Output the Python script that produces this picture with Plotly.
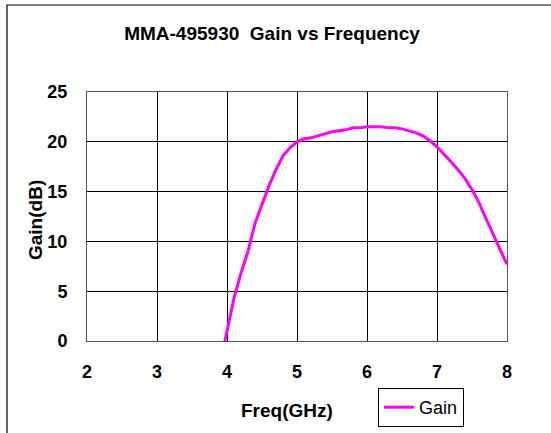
import plotly.graph_objects as go

freq = [3.97, 4.0, 4.1, 4.2, 4.3, 4.4, 4.5, 4.6, 4.7, 4.8, 4.9, 5.0, 5.1, 5.2, 5.3,
        5.4, 5.5, 5.6, 5.7, 5.8, 5.9, 6.0, 6.1, 6.2, 6.3, 6.4, 6.5, 6.6, 6.7, 6.8,
        6.9, 7.0, 7.1, 7.2, 7.3, 7.4, 7.5, 7.6, 7.7, 7.8, 7.9, 8.0]
gain = [0.0, 1.0, 4.3, 6.8, 9.0, 11.8, 13.8, 15.6, 17.2, 18.6, 19.4, 20.0, 20.3, 20.4, 20.6,
        20.8, 21.0, 21.1, 21.2, 21.4, 21.4, 21.5, 21.5, 21.5, 21.4, 21.4, 21.3, 21.1, 20.9, 20.6,
        20.1, 19.5, 18.8, 18.0, 17.2, 16.3, 15.2, 13.9, 12.3, 10.7, 9.2, 7.7]

x_ticks = [2, 3, 4, 5, 6, 7, 8]
y_ticks = [0, 5, 10, 15, 20, 25]

FONT = "Liberation Sans"
L, R, T, B = 87, 44, 92, 92
W, H = 551, 433
pw = W - L - R
ph = H - T - B

fig = go.Figure()
fig.add_trace(go.Scatter(x=freq, y=gain, mode="lines", name="Gain",
                         line=dict(color="#ff00ff", width=3), showlegend=True))

fig.update_layout(
    width=W, height=H,
    margin=dict(l=L, r=R, t=T, b=B, autoexpand=False),
    paper_bgcolor="white", plot_bgcolor="white",
    font=dict(family=FONT, color="black"),
    showlegend=True,
    legend=dict(xref="container", yref="container",
                x=378 / W, y=1 - 388 / H, xanchor="left", yanchor="top",
                bordercolor="black", borderwidth=1, bgcolor="white",
                font=dict(family=FONT, size=18, color="black"),
                itemwidth=30, tracegroupgap=0),
    title=dict(text="<b>MMA-495930  Gain vs Frequency</b>", x=272 / W, xanchor="center",
               y=1 - 33 / H, yanchor="middle", xref="container", yref="container",
               font=dict(family=FONT, size=19, color="black")),
    xaxis=dict(range=[2, 8], tickvals=x_ticks, ticktext=[f"<b>{v}</b>" for v in x_ticks],
               showgrid=True, gridcolor="black", gridwidth=1,
               showline=True, linecolor="#555", linewidth=1, mirror=True,
               ticks="", ticklabelstandoff=14, zeroline=False, automargin=False,
               tickfont=dict(family=FONT, size=18, color="black")),
    yaxis=dict(range=[0, 25], tickvals=y_ticks, ticktext=[f"<b>{v}</b>" for v in y_ticks],
               showgrid=True, gridcolor="black", gridwidth=1,
               showline=True, linecolor="#555", linewidth=1, mirror=True,
               ticks="", ticklabelstandoff=15, zeroline=False, automargin=False,
               tickfont=dict(family=FONT, size=18, color="black")),
)

fig.add_annotation(text="<b>Freq(GHz)</b>", xref="paper", yref="paper",
                   x=(287 - L) / pw, y=(H - B - 410) / ph, showarrow=False,
                   xanchor="center", yanchor="middle",
                   font=dict(family=FONT, size=19, color="black"))
fig.add_annotation(text="<b>Gain(dB)</b>", xref="paper", yref="paper",
                   x=(35 - L) / pw, y=(H - B - 220) / ph, showarrow=False, textangle=-90,
                   xanchor="center", yanchor="middle",
                   font=dict(family=FONT, size=19, color="black"))

# outer chart frame
fig.add_shape(type="rect", xref="paper", yref="paper",
              x0=(7 - L) / pw, x1=(W + 20 - L) / pw,
              y0=(H - B - (H + 20)) / ph, y1=(H - B - 5) / ph,
              line=dict(color="black", width=1.2), fillcolor="rgba(0,0,0,0)", layer="below")

fig.write_html("out.html", config={"displayModeBar": False},
               post_script="document.body.style.margin='0';")
